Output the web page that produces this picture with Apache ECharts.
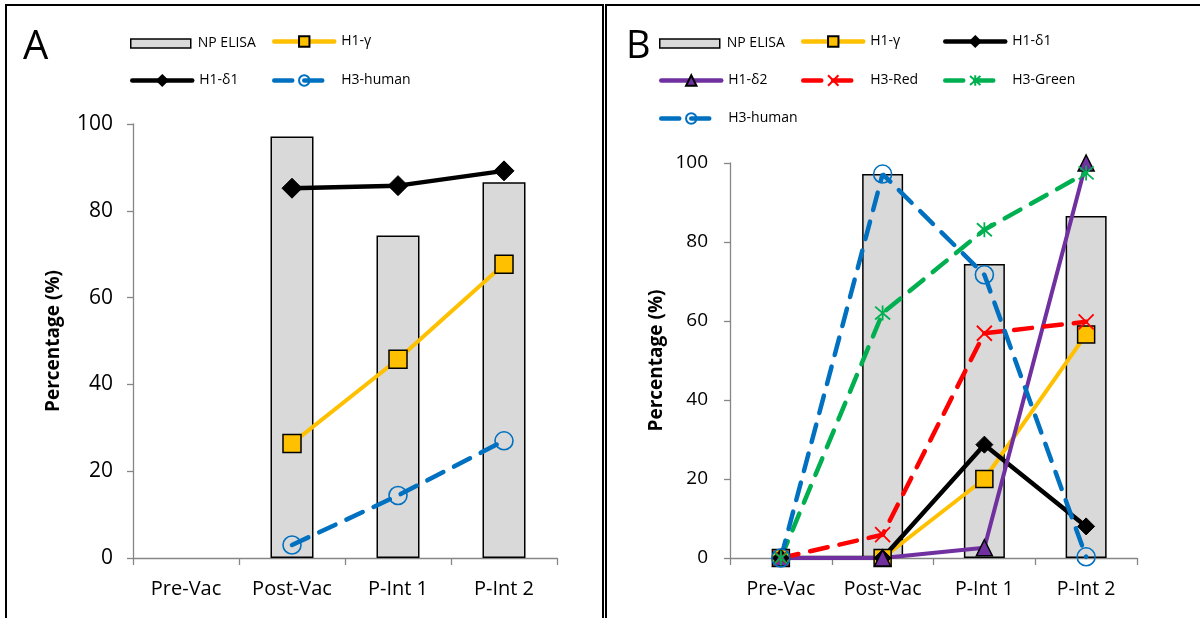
<!DOCTYPE html>
<html>
<head>
<meta charset="utf-8">
<script src="https://cdn.jsdelivr.net/npm/echarts@6/dist/echarts.min.js"></script>
<style>
html,body{margin:0;padding:0;background:#fff;}
#chart{width:1200px;height:618px;}
</style>
</head>
<body>
<div id="chart"></div>
<script>
// ---- data ----
const categories = ['Pre-Vac', 'Post-Vac', 'P-Int 1', 'P-Int 2'];
const yTicks = [0, 20, 40, 60, 80, 100];

// Panel A
const npElisaA  = [null, 97.1, 74.3, 86.6];
const h1GammaA  = [null, 26.4, 45.8, 67.7];
const h1Delta1A = [null, 85.2, 85.8, 89.2];
const h3HumanA  = [null, 3.0, 14.4, 27.0];

// Panel B
const npElisaB  = [null, 97.2, 74.4, 86.6];
const h1GammaB  = [0, 0, 20.0, 56.6];
const h1Delta1B = [0, 0, 28.7, 8.0];
const h1Delta2B = [0, 0, 2.6, 100];
const h3RedB    = [0, 5.9, 56.9, 59.8];
const h3GreenB  = [0, 62.0, 83.1, 97.5];
const h3HumanB  = [0, 97.2, 71.7, 0.3];

// ---- styles ----
const FONT = '"Open Sans", "Noto Sans", sans-serif';
const C = {
  bar: '#d9d9d9', gold: '#ffc000', black: '#000000', blue: '#0070c0',
  purple: '#7030a0', red: '#ff0000', green: '#00b050', axis: '#868686'
};
const DASH = [18, 12];
const X_SYM = 'path://M0,0L10,10M10,0L0,10';
const STAR_SYM = 'path://M5,0L5,10M0.7,0.7L9.3,9.3M9.3,0.7L0.7,9.3';

function xAxisCfg(gridIndex, fs) {
  return {
    type: 'category', gridIndex, data: categories, boundaryGap: true,
    axisLine: { lineStyle: { color: C.axis, width: 1.3 } },
    axisTick: { show: true, length: 7, lineStyle: { color: C.axis, width: 1.3 } },
    axisLabel: { color: '#000', fontSize: fs, fontFamily: FONT, margin: 21, interval: 0 },
    splitLine: { show: false }
  };
}
function yAxisCfg(gridIndex, fs, gap, margin) {
  return {
    type: 'value', gridIndex, min: yTicks[0], max: yTicks[yTicks.length - 1], interval: 20,
    axisLine: { show: true, lineStyle: { color: C.axis, width: 1.3 } },
    axisTick: { show: true, length: 6, lineStyle: { color: C.axis, width: 1.3 } },
    axisLabel: { color: '#000', fontSize: fs, fontFamily: FONT, margin },
    splitLine: { show: false },
    name: 'Percentage (%)', nameLocation: 'middle', nameGap: gap,
    nameTextStyle: { color: '#000', fontSize: 19, fontWeight: 'bold', fontFamily: FONT }
  };
}
function barSeries(data, idx, width) {
  return {
    name: 'NP ELISA', type: 'bar', xAxisIndex: idx, yAxisIndex: idx, data,
    barWidth: width,
    itemStyle: { color: C.bar, borderColor: '#000', borderWidth: 1.5 }
  };
}
function lineSeries(name, data, idx, o) {
  return {
    name, type: 'line', xAxisIndex: idx, yAxisIndex: idx, data,
    symbol: o.symbol, symbolSize: o.size,
    showAllSymbol: true, connectNulls: false,
    lineStyle: { color: o.color, width: o.width || 4, type: o.dash ? DASH : 'solid', cap: 'round' },
    itemStyle: o.itemStyle,
    emphasis: { disabled: true },
    z: o.z || 3
  };
}
const goldItem = { color: C.gold, borderColor: '#000', borderWidth: 1.5 };
const blackItem = { color: '#000', borderColor: '#000', borderWidth: 1 };
const blueItem = { color: 'rgba(0,0,0,0)', borderColor: C.blue, borderWidth: 1.6 };
const purpleItem = { color: C.purple, borderColor: '#000', borderWidth: 1.5 };
const redItem = { color: 'rgba(0,0,0,0)', borderColor: C.red, borderWidth: 1.8 };
const greenItem = { color: 'rgba(0,0,0,0)', borderColor: C.green, borderWidth: 1.8 };

function leg(name, left, centerY, h, isBar) {
  const l = {
    data: [isBar ? { name, icon: 'rect' } : name], left, top: centerY - h / 2, padding: 0,
    itemWidth: 60, itemHeight: h, selectedMode: false,
    textStyle: { color: '#000', fontSize: 14, fontFamily: FONT, padding: [0, 0, 0, 2] }
  };
  if (isBar) {
    l.itemStyle = { color: C.bar, borderColor: '#000', borderWidth: 1.5 };
  } else {
    l.lineStyle = { width: 4.5, cap: 'round' };
  }
  return l;
}

const option = {
  animation: false,
  backgroundColor: '#fff',
  grid: [
    { left: 133, top: 124, width: 424, height: 434 },
    { left: 730, top: 163, width: 407, height: 395 }
  ],
  xAxis: [xAxisCfg(0, 20), xAxisCfg(1, 19.5)],
  yAxis: [yAxisCfg(0, 21, 70, 20), yAxisCfg(1, 19, 64, 22)],
  legend: [
    leg('NP ELISA', 130, 41, 9, true),
    leg('H1-γ', 272, 41, 13),
    leg('H1-δ1', 130, 80, 13),
    leg('H3-human', 272, 80, 13),
    leg('NP ELISA', 659, 41, 9, true),
    leg('H1-γ', 801, 41, 13),
    leg('H1-δ1', 943, 41, 13),
    leg('H1-δ2', 659, 80, 13),
    leg('H3-Red', 801, 80, 13),
    leg('H3-Green', 943, 80, 13),
    leg('H3-human', 659, 118, 13)
  ],
  graphic: [
    { type: 'rect', shape: { x: 6, y: 5, width: 597, height: 700 }, style: { fill: 'none', stroke: '#000', lineWidth: 2 }, silent: true },
    { type: 'rect', shape: { x: 606, y: 5, width: 700, height: 700 }, style: { fill: 'none', stroke: '#000', lineWidth: 2 }, silent: true },
    { type: 'text', left: 23, top: 28, style: { text: 'A', fontSize: 40, fontFamily: FONT, fill: '#000' } },
    { type: 'text', left: 626, top: 28, style: { text: 'B', fontSize: 38, fontFamily: FONT, fill: '#000' } }
  ],
  series: [
    barSeries(npElisaA, 0, 43),
    lineSeries('H1-γ', h1GammaA, 0, { symbol: 'rect', size: 18, color: C.gold, width: 4, itemStyle: goldItem }),
    lineSeries('H1-δ1', h1Delta1A, 0, { symbol: 'diamond', size: 20, color: C.black, width: 4.5, itemStyle: blackItem }),
    lineSeries('H3-human', h3HumanA, 0, { symbol: 'circle', size: 18, color: C.blue, width: 4.5, dash: true, itemStyle: blueItem }),

    barSeries(npElisaB, 1, 41),
    lineSeries('H1-γ', h1GammaB, 1, { symbol: 'rect', size: 17, color: C.gold, width: 4, itemStyle: goldItem }),
    lineSeries('H1-δ1', h1Delta1B, 1, { symbol: 'diamond', size: 17, color: C.black, width: 4.5, itemStyle: blackItem }),
    lineSeries('H1-δ2', h1Delta2B, 1, { symbol: 'triangle', size: 16, color: C.purple, width: 4, itemStyle: purpleItem }),
    lineSeries('H3-Red', h3RedB, 1, { symbol: X_SYM, size: 15, color: C.red, width: 4.5, dash: true, itemStyle: redItem }),
    lineSeries('H3-Green', h3GreenB, 1, { symbol: STAR_SYM, size: 15, color: C.green, width: 4.5, dash: true, itemStyle: greenItem }),
    lineSeries('H3-human', h3HumanB, 1, { symbol: 'circle', size: 18, color: C.blue, width: 4.5, dash: true, itemStyle: blueItem })
  ]
};

const chart = echarts.init(document.getElementById('chart'), null, { renderer: 'canvas' });
chart.setOption(option);
</script>
</body>
</html>
